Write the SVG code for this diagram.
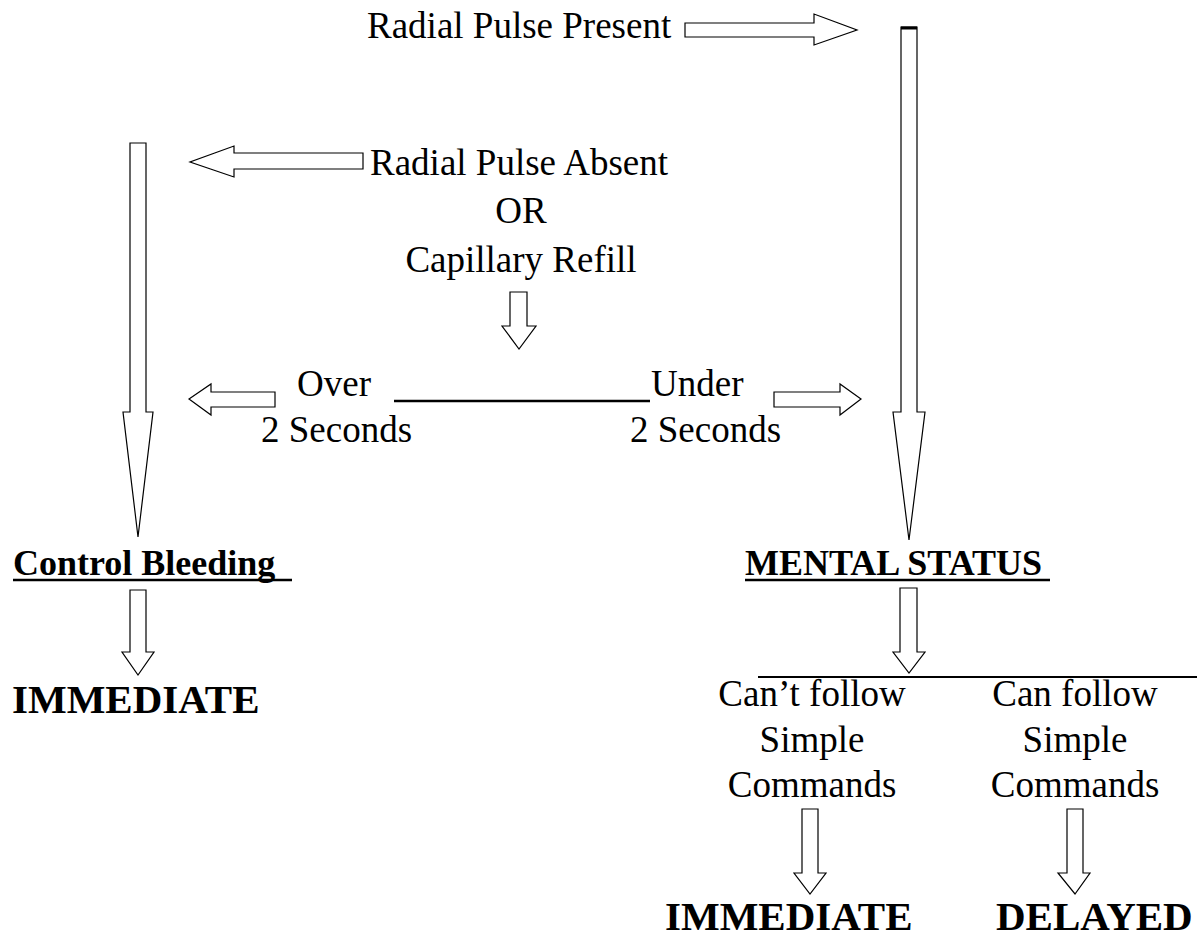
<svg xmlns="http://www.w3.org/2000/svg" width="1200" height="939" viewBox="0 0 1200 939">
<style>
.t{font-family:"Liberation Serif","Times New Roman",serif;font-size:37px;fill:#000}
.h{font-family:"Liberation Serif","Times New Roman",serif;font-size:36px;font-weight:bold;fill:#000}
.r{font-family:"Liberation Serif","Times New Roman",serif;font-size:41px;font-weight:bold;fill:#000}
.m{text-anchor:middle}
.a{fill:#fff;stroke:#000;stroke-width:1.2;stroke-linejoin:miter}
.u{stroke:#000;stroke-width:2.5}
</style>
<rect width="1200" height="939" fill="#fff"/>
<g id="connectors">
<polygon class="a" points="685,23 814,23 814,14 857,30 814,45 814,37 685,37"/>
<polygon class="a" points="901,27 917,27 917,412 925,412 909,540 893,412 901,412"/>
<line x1="901" y1="28" x2="917" y2="28" stroke="#000" stroke-width="3"/>
<polygon class="a" points="363,153 234,153 234,146 190,162 234,177 234,169 363,169"/>
<polygon class="a" points="130,143 146,143 146,412 153,412 138,537 123,412 130,412"/>
<polygon class="a" points="510,292 527,292 527,326 536,326 519,349 502,326 510,326"/>
<polygon class="a" points="275,392 211,392 211,384 189,399 211,415 211,407 275,407"/>
<polygon class="a" points="774,392 840,392 840,384 861,399 840,415 840,407 774,407"/>
<line x1="394" y1="401" x2="650" y2="401" stroke="#000" stroke-width="2.5"/>
<polygon class="a" points="130,590 146,590 146,652 154,652 138,675 122,652 130,652"/>
<polygon class="a" points="900,588 917,588 917,652 925,652 909,673 893,652 900,652"/>
<line x1="758" y1="677" x2="1197" y2="677" stroke="#000" stroke-width="2"/>
<polygon class="a" points="802,809 818,809 818,873 826,873 810,894 794,873 802,873"/>
<polygon class="a" points="1067,809 1083,809 1083,873 1090,873 1075,894 1058,873 1067,873"/>
</g>
<g id="present"><text class="t" x="367" y="38">Radial Pulse Present</text></g>
<g id="absent">
<text class="t" x="370" y="175">Radial Pulse Absent</text>
<text class="t m" x="521" y="223">OR</text>
<text class="t m" x="521" y="272">Capillary Refill</text>
</g>
<g id="over">
<text class="t" x="297" y="396">Over</text>
<text class="t" x="261" y="442">2 Seconds</text>
</g>
<g id="under">
<text class="t" x="651" y="396">Under</text>
<text class="t" x="630" y="442">2 Seconds</text>
</g>
<g id="control-bleeding">
<text class="h" x="13" y="575">Control Bleeding</text>
<line class="u" x1="13" y1="580" x2="292" y2="580"/>
</g>
<g id="mental-status">
<text class="h" x="745" y="575">MENTAL STATUS</text>
<line class="u" x1="745" y1="580" x2="1050" y2="580"/>
</g>
<g id="immediate-left"><text class="r" x="12" y="713">IMMEDIATE</text></g>
<g id="cant-follow">
<text class="t m" x="812" y="706">Can’t follow</text>
<text class="t m" x="812" y="752">Simple</text>
<text class="t m" x="812" y="797">Commands</text>
</g>
<g id="can-follow">
<text class="t m" x="1075" y="706">Can follow</text>
<text class="t m" x="1075" y="752">Simple</text>
<text class="t m" x="1075" y="797">Commands</text>
</g>
<g id="immediate-bottom"><text class="r" x="665" y="930">IMMEDIATE</text></g>
<g id="delayed"><text class="r" x="996" y="930">DELAYED</text></g>
</svg>
